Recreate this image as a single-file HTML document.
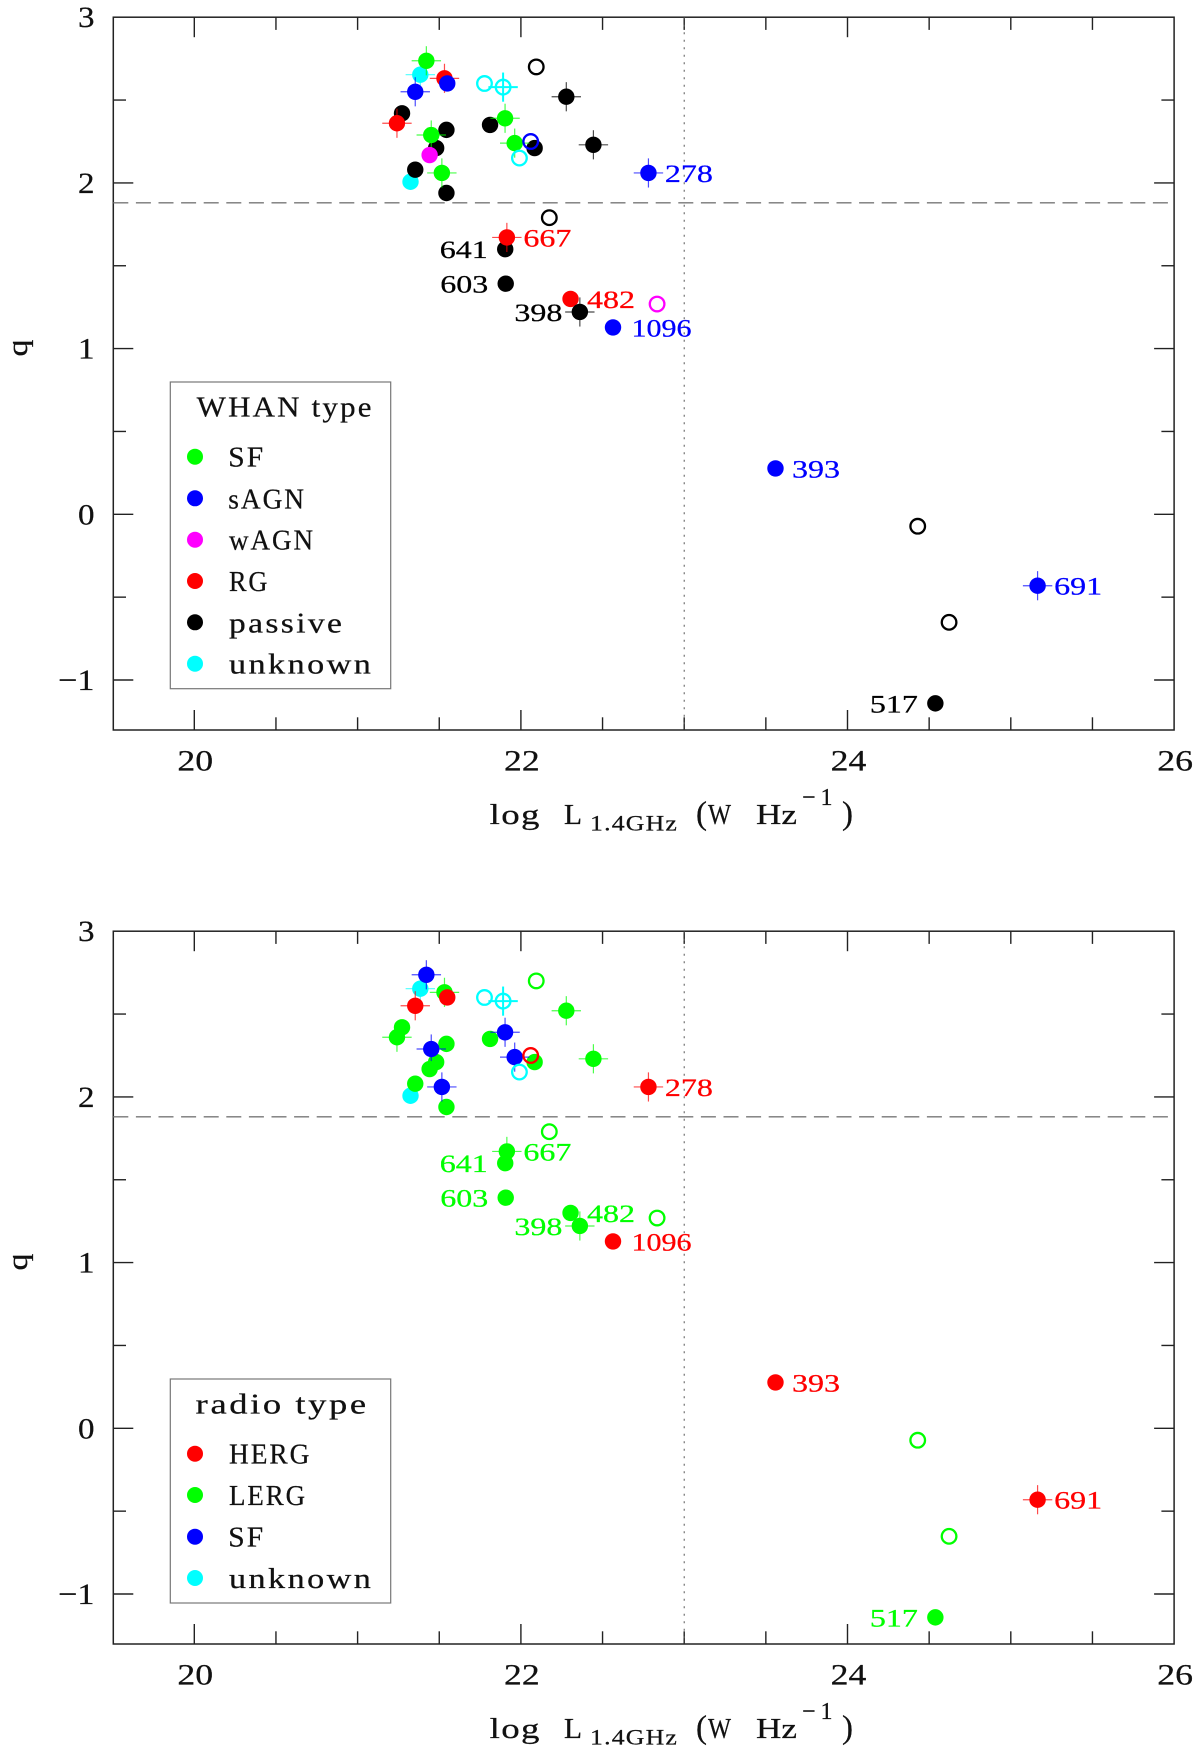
<!DOCTYPE html>
<html lang="en">
<head>
<meta charset="utf-8">
<title>q versus radio luminosity</title>
<style>
html,body{margin:0;padding:0;background:#fff;width:1200px;height:1760px;overflow:hidden}
svg{display:block}
text{font-family:"Liberation Serif",serif;fill:#111;stroke:#111;stroke-width:.25px}
.leg{font-size:28px;letter-spacing:2px}
.ttl{font-size:29px}
</style>
</head>
<body>
<svg id="chart" width="1200" height="1760" viewBox="0 0 1200 1760" xmlns="http://www.w3.org/2000/svg">
  <g id="panel-top">
    <g id="marks-top"></g>
    <g><text class="ttl" transform="translate(27,348) rotate(-90)" text-anchor="middle" textLength="17" lengthAdjust="spacingAndGlyphs">q</text></g>
    <g>
      <text class="ttl" x="489.7" y="824" letter-spacing="1" textLength="51" lengthAdjust="spacingAndGlyphs">log</text>
      <text class="ttl" x="564" y="824" textLength="18" lengthAdjust="spacingAndGlyphs">L</text>
      <text x="590" y="830.7" font-size="22" letter-spacing="1" textLength="88" lengthAdjust="spacingAndGlyphs">1.4GHz</text>
      <text x="696" y="824" font-size="33">(</text>
      <text class="ttl" x="708" y="824" textLength="23" lengthAdjust="spacingAndGlyphs">W</text>
      <text class="ttl" x="756" y="824" textLength="41" lengthAdjust="spacingAndGlyphs">Hz</text>
      <text x="802" y="805" font-size="24" textLength="30.5" lengthAdjust="spacing">−1</text>
      <text x="842" y="824" font-size="33">)</text>
    </g>
    <g>
      <rect x="170.3" y="382" width="220.4" height="306.7" fill="#fff" stroke="#777" stroke-width="1.2"/>
      <text class="leg" x="196.7" y="416.7" textLength="177" lengthAdjust="spacingAndGlyphs">WHAN type</text>
      <g><circle cx="195" cy="456.7" r="8" fill="#00ff00"/><text class="leg" x="228.3" y="466.7" textLength="37" lengthAdjust="spacingAndGlyphs">SF</text></g>
      <g><circle cx="195" cy="498.3" r="8" fill="#0000ff"/><text class="leg" x="228.3" y="508.3" textLength="77.7" lengthAdjust="spacingAndGlyphs">sAGN</text></g>
      <g><circle cx="195" cy="539.7" r="8" fill="#ff00ff"/><text class="leg" x="229" y="549.7" textLength="86" lengthAdjust="spacingAndGlyphs">wAGN</text></g>
      <g><circle cx="195" cy="581" r="8" fill="#ff0000"/><text class="leg" x="229" y="591" textLength="40.3" lengthAdjust="spacingAndGlyphs">RG</text></g>
      <g><circle cx="195" cy="622.3" r="8" fill="#000"/><text class="leg" x="229" y="632.3" textLength="115.3" lengthAdjust="spacingAndGlyphs">passive</text></g>
      <g><circle cx="195" cy="663.7" r="8" fill="#00ffff"/><text class="leg" x="229" y="673.7" textLength="144.3" lengthAdjust="spacingAndGlyphs">unknown</text></g>
    </g>
  </g>
  <g id="panel-bottom" transform="translate(0,914)">
    <g id="marks-bottom"></g>
    <g><text class="ttl" transform="translate(27,348) rotate(-90)" text-anchor="middle" textLength="17" lengthAdjust="spacingAndGlyphs">q</text></g>
    <g>
      <text class="ttl" x="489.7" y="824" letter-spacing="1" textLength="51" lengthAdjust="spacingAndGlyphs">log</text>
      <text class="ttl" x="564" y="824" textLength="18" lengthAdjust="spacingAndGlyphs">L</text>
      <text x="590" y="830.7" font-size="22" letter-spacing="1" textLength="88" lengthAdjust="spacingAndGlyphs">1.4GHz</text>
      <text x="696" y="824" font-size="33">(</text>
      <text class="ttl" x="708" y="824" textLength="23" lengthAdjust="spacingAndGlyphs">W</text>
      <text class="ttl" x="756" y="824" textLength="41" lengthAdjust="spacingAndGlyphs">Hz</text>
      <text x="802" y="805" font-size="24" textLength="30.5" lengthAdjust="spacing">−1</text>
      <text x="842" y="824" font-size="33">)</text>
    </g>
    <g>
      <rect x="170.3" y="465" width="220.4" height="224" fill="#fff" stroke="#777" stroke-width="1.2"/>
      <text class="leg" x="195.7" y="499.3" textLength="173" lengthAdjust="spacingAndGlyphs">radio type</text>
      <g><circle cx="195" cy="539.7" r="8" fill="#ff0000"/><text class="leg" x="229" y="549.7" textLength="82.3" lengthAdjust="spacingAndGlyphs">HERG</text></g>
      <g><circle cx="195" cy="581" r="8" fill="#00ff00"/><text class="leg" x="229" y="591" textLength="78" lengthAdjust="spacingAndGlyphs">LERG</text></g>
      <g><circle cx="195" cy="622.7" r="8" fill="#0000ff"/><text class="leg" x="228.3" y="632.7" textLength="37" lengthAdjust="spacingAndGlyphs">SF</text></g>
      <g><circle cx="195" cy="664" r="8" fill="#00ffff"/><text class="leg" x="229" y="674" textLength="144.3" lengthAdjust="spacingAndGlyphs">unknown</text></g>
    </g>
  </g>
</svg>
<script>
// Data, in drawing order
const logL = [21.384,21.324,21.272,21.481,21.544,21.353,21.544,21.811,22.084,22.278,22.444,21.904,21.907,22.304,22.361,21.241,21.532,21.914,21.421,21.451,21.516,21.903,21.962,21.441,21.549,21.353,22.781,22.564,23.559,25.164,24.538,21.777,21.891,21.991,22.06,22.094,22.174,22.834,24.43,24.622];
const qValues = [2.653,2.007,2.42,2.21,2.32,2.08,1.939,2.35,2.21,2.52,2.23,1.60,1.392,1.30,1.221,2.36,2.631,1.671,2.737,2.289,2.06,2.39,2.24,2.168,2.60,2.55,2.06,1.128,0.277,-0.431,-1.141,2.60,2.578,2.15,2.25,2.70,1.79,1.269,-0.072,-0.652];
const hasError = [1,0,0,0,0,0,0,0,0,1,1,0,0,0,1,1,1,1,1,1,1,1,1,0,0,1,1,0,0,1,0,0,1,0,0,0,0,0,0,0];
const isOpen = [0,0,0,0,0,0,0,0,0,0,0,0,0,0,0,0,0,0,0,0,0,0,0,0,0,0,0,0,0,0,0,1,1,1,1,1,1,1,1,1];
const whanType = ['unknown','unknown','passive','passive','passive','passive','passive','passive','passive','passive','passive','passive','passive','RG','passive','RG','RG','RG','SF','SF','SF','SF','SF','wAGN','sAGN','sAGN','sAGN','sAGN','sAGN','sAGN','passive','unknown','unknown','unknown','sAGN','passive','passive','wAGN','passive','passive'];
const radioType = ['unknown','unknown','LERG','LERG','LERG','LERG','LERG','LERG','LERG','LERG','LERG','LERG','LERG','LERG','LERG','LERG','LERG','LERG','SF','SF','SF','SF','SF','LERG','HERG','HERG','HERG','HERG','HERG','HERG','LERG','unknown','unknown','unknown','HERG','LERG','LERG','LERG','LERG','LERG'];
const sourceIds = ['','','','','','','','','','','','641','603','482','398','','','667','','','','','','','','','278','1096','393','691','517','','','','','','','','',''];
const idSide = ['','','','','','','','','','','','left','left','right','left','','','right','','','','','','','','','right','right','right','right','left','','','','','','','','',''];
const errorX = 0.09;
const errorQ = 0.088;
const xTicks = [20,20.5,21,21.5,22,22.5,23,23.5,24,24.5,25,25.5];
const xMajorTicks = ['20','22','24','26'];
const yTicks = [-1,-0.5,0,0.5,1,1.5,2,2.5];
const yMajorTicks = ['−1','0','1','2','3'];
const radioDivide = 1.88;
const luminosityDivide = 23;

const whanColours = {SF:'#00ff00',sAGN:'#0000ff',wAGN:'#ff00ff',RG:'#ff0000',passive:'#000000',unknown:'#00ffff'};
const radioColours = {HERG:'#ff0000',LERG:'#00ff00',SF:'#0000ff',unknown:'#00ffff'};
const NS = 'http://www.w3.org/2000/svg';
const L = 113.3, R = 1174.1, T = 17.2, B = 730;
const xScale = v => 194.3 + 163.3 * (v - 20);
const yScale = v => 514.3 - 165.7 * v;

function make(parent, tag, attrs) {
  const el = document.createElementNS(NS, tag);
  for (const k in attrs) el.setAttribute(k, attrs[k]);
  parent.appendChild(el);
  return el;
}
function axisLine(parent, x1, y1, x2, y2) {
  const el = make(parent, 'line', {x1, y1, x2, y2, stroke:'#222', 'stroke-width':1.4});
  
  
}
function drawAxes(g) {
  const frame = make(g, 'rect', {x:L, y:T, width:R-L, height:B-T, fill:'none', stroke:'#222', 'stroke-width':1.5});
  
  
  xTicks.forEach(v => {
    const len = (v % 2 === 0) ? 20 : 12.7;
    axisLine(g, xScale(v), B, xScale(v), B - len);
    axisLine(g, xScale(v), T, xScale(v), T + len);
  });
  yTicks.forEach(v => {
    const len = Number.isInteger(v) ? 20 : 12.7;
    axisLine(g, L, yScale(v), L + len, yScale(v));
    axisLine(g, R, yScale(v), R - len, yScale(v));
  });
  xMajorTicks.forEach(label => {
    const t = make(g, 'text', {x:xScale(+label)+1, y:B+40.7, 'font-size':30, 'text-anchor':'middle', textLength:35.7, lengthAdjust:'spacingAndGlyphs'});
    
    
    t.textContent = label;
  });
  yMajorTicks.forEach(label => {
    const v = +label.replace('−', '-');
    const t = make(g, 'text', {x:94.5, y:yScale(v)+10, 'font-size':30, 'text-anchor':'end', textLength:label.length > 1 ? 36.3 : 16.5, lengthAdjust:'spacingAndGlyphs'});
    
    
    t.textContent = label;
  });
  const dash = make(g, 'line', {x1:L, y1:yScale(radioDivide), x2:1168, y2:yScale(radioDivide), stroke:'#777', 'stroke-width':1.4, 'stroke-dasharray':'15 7.6'});
  
  
  const dot = make(g, 'line', {x1:xScale(luminosityDivide), y1:T, x2:xScale(luminosityDivide), y2:B, stroke:'#555', 'stroke-width':1, 'stroke-dasharray':'2 5.5'});
  
  
}
function drawMarks(g, types, colours) {
  logL.forEach((v, i) => {
    const c = colours[types[i]];
    const px = xScale(v), py = yScale(qValues[i]);
    const mark = make(g, 'g', {});
    
    
    if (hasError[i]) {
      const w = isOpen[i] ? 2 : 1.2;
      const op = isOpen[i] ? 1 : .7;
      make(mark, 'line', {x1:xScale(v-errorX), y1:py, x2:xScale(v+errorX), y2:py, stroke:c, 'stroke-width':w, opacity:op});
      make(mark, 'line', {x1:px, y1:yScale(qValues[i]-errorQ), x2:px, y2:yScale(qValues[i]+errorQ), stroke:c, 'stroke-width':w, opacity:op});
    }
    if (isOpen[i]) make(mark, 'circle', {cx:px, cy:py, r:7.3, fill:'none', stroke:c, 'stroke-width':2.3});
    else make(mark, 'circle', {cx:px, cy:py, r:8.2, fill:c});
    if (sourceIds[i]) {
      const width = sourceIds[i].length > 3 ? 60 : 48;
      const start = idSide[i] === 'right' ? px + 16.5 + (sourceIds[i].length > 3 ? 2 : 0) : px - 17.5 - width;
      const t = make(g, 'text', {x:start, y:py+9, 'font-size':25, textLength:width, lengthAdjust:'spacingAndGlyphs', style:'fill:'+c+';stroke:'+c});
      
      
      t.textContent = sourceIds[i];
    }
  });
}
const topG = document.getElementById('marks-top');
const bottomG = document.getElementById('marks-bottom');
drawAxes(topG);
drawMarks(topG, whanType, whanColours);
drawAxes(bottomG);
drawMarks(bottomG, radioType, radioColours);
</script>
</body>
</html>
